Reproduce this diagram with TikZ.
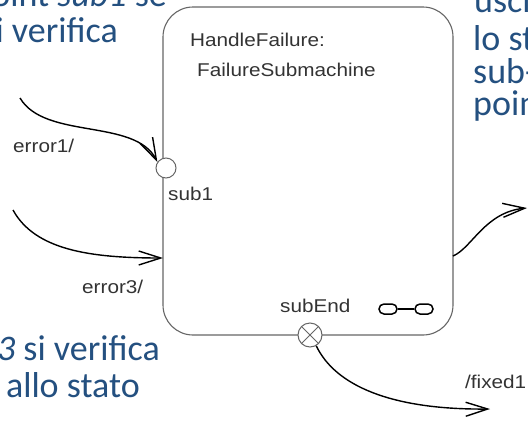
\documentclass[tikz,border=0pt]{standalone}
\usepackage{fontspec}
\setmainfont{Liberation Sans}
\newfontfamily\umlfont[FakeStretch=1.12]{Liberation Sans}
\newfontfamily\slidefont{Carlito}
\usetikzlibrary{arrows.meta,positioning}
\definecolor{SlideBlue}{RGB}{36,80,128}
\colorlet{BoxGray}{black!60}
\colorlet{TagGray}{black!80}

\begin{document}
\begin{tikzpicture}[x=1pt, y=-1pt,
  statebox/.style={rectangle, rounded corners=30pt, draw=BoxGray, line width=1.1pt, minimum width=290pt, minimum height=328pt, inner sep=0pt},
  entrypt/.style={circle, draw=BoxGray, fill=white, line width=1pt, minimum size=20pt, inner sep=0pt},
  exitpt/.style={circle, draw=BoxGray, fill=white, line width=1pt, minimum size=24pt, inner sep=0pt},
  linkoval/.style={rectangle, rounded corners=5pt, draw=black, line width=1.5pt, minimum width=18pt, minimum height=10pt, inner sep=0pt},
  tag/.style={font=\umlfont\fontsize{18.5}{22}\selectfont, text=TagGray, inner sep=0pt, anchor=base west},
  slidetext/.style={font=\slidefont\fontsize{36}{36}\selectfont, text=SlideBlue, inner sep=0pt},
  transition/.style={-{Straight Barb[length=22pt,width=14pt]}, line width=1.4pt, black}
]
\clip (0,0) rectangle (528,421);

% Slide text cut by the frame
\node[slidetext, anchor=base east] (noteA1) at (167,6) {oint \textit{sub1} se};
\node[slidetext, anchor=base east] (noteA2) at (118,42) {i verifica};
\node[slidetext, anchor=base east] (noteB1) at (160,360) {\textit{3} si verifica};
\node[slidetext, anchor=base east] (noteB2) at (140,397) {allo stato};
\node[slidetext, anchor=base west] (noteC1) at (474,12) {usci};
\node[slidetext, anchor=base west] (noteC2) at (473,50) {lo st};
\node[slidetext, anchor=base west] (noteC3) at (473,83) {sub-};
\node[slidetext, anchor=base west] (noteC4) at (473,115) {poin};

% Submachine state
\node[statebox] (handle) at (308,171) {};
\node[tag] (handlename) at (190,46) {HandleFailure:};
\node[tag] (handletype) at (197,76) {FailureSubmachine};

% Composite icon
\node[linkoval] (ovalL) at (388,309) {};
\node[linkoval] (ovalR) at (424,309) {};
\draw[line width=1.5pt] (ovalL) -- (ovalR);

% Entry and exit points
\node[entrypt] (sub1) at (166,168) {};
\node[tag] (sub1name) at (168,200) {sub1};
\node[exitpt] (subend) at (310,335) {};
\draw[BoxGray, line width=1pt] (subend.45) -- (subend.225) (subend.135) -- (subend.-45);
\node[tag] (subendname) at (280,312) {subEnd};

% Free ends
\coordinate (e1in) at (20,98);
\coordinate (e3in) at (13,210);
\coordinate (e3end) at (163,258);
\coordinate (outstart) at (453,256);
\coordinate (outend) at (527,208);
\coordinate (fixend) at (490,409);

% Transitions
\draw[transition] (e1in) .. controls (45,140) and (135,118) .. (sub1.145);
\node[tag] (error1) at (13,152) {error1/};
\draw[transition] (e3in) .. controls (35,250) and (90,258) .. (e3end);
\node[tag] (error3) at (82,293) {error3/};
\draw[transition] (outstart) .. controls (472,248) and (485,212) .. (outend);
\draw[transition] (subend.-60) .. controls (335,385) and (390,410) .. (fixend);
\node[tag] (fixed1) at (465,388) {/fixed1};

\end{tikzpicture}
\end{document}
